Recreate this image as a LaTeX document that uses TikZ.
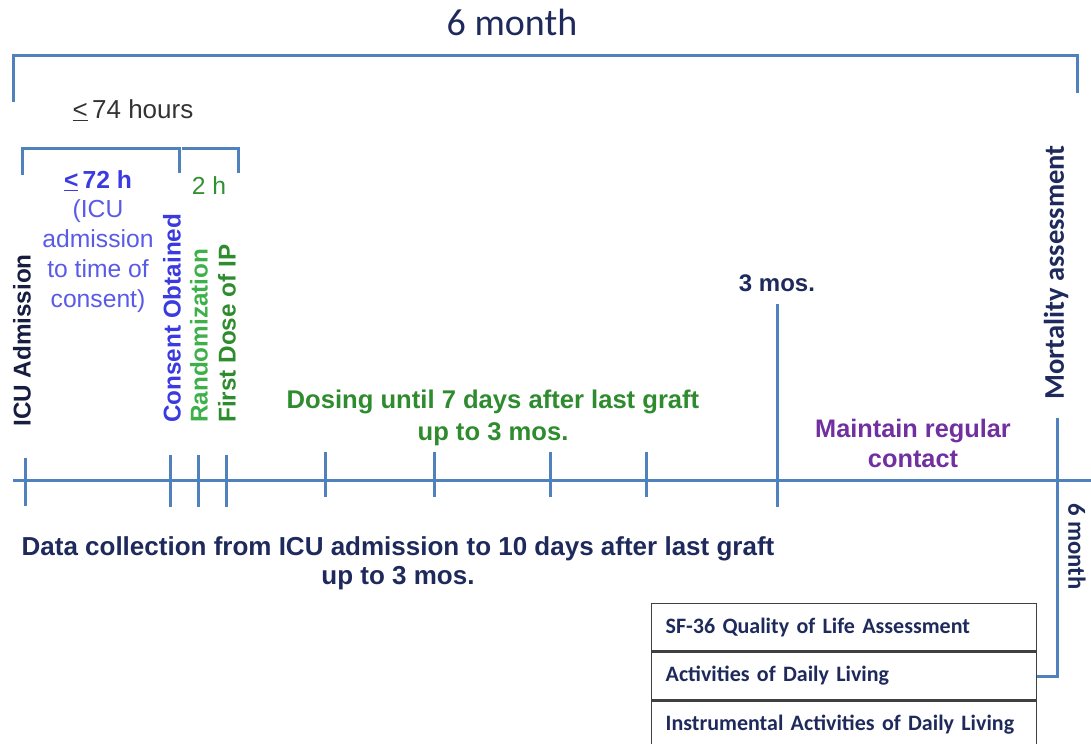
\documentclass[tikz,border=0pt]{standalone}
\usepackage{fontspec}
\setmainfont{Liberation Sans}
\newfontfamily\calibri{Carlito}
\definecolor{lineblue}{HTML}{4F81BD}
\definecolor{navy}{HTML}{1F2A5C}
\definecolor{tblue}{HTML}{3A3AE0}
\definecolor{lblue}{HTML}{5A5AE8}
\definecolor{dgreen}{HTML}{2E8B2E}
\definecolor{lgreen}{HTML}{3DB04A}
\definecolor{purp}{HTML}{7030A0}
\definecolor{gray4}{HTML}{404040}
\definecolor{textgray}{HTML}{333333}
\tikzset{
  bl/.style={draw=lineblue, line width=2.25pt},
  lbl/.style={inner sep=0pt, align=center},
  vert/.style={inner sep=0pt, rotate=90, anchor=west, font=\fontsize{18.2}{21}\selectfont\bfseries},
  rowbox/.style={draw=gray4, line width=1pt, anchor=north west, minimum width=288.75pt, minimum height=35.5pt,
     text width=267.75pt, inner xsep=10.5pt, align=left, text=navy,
     font=\calibri\fontsize{16.5}{19}\selectfont\bfseries},
}
\begin{document}
\begin{tikzpicture}[x=0.75pt,y=-0.75pt]
\useasboundingbox (0,0) rectangle (1091,743);
% title
\node[lbl, text=navy, font=\calibri\fontsize{28.5}{32}\selectfont] (title) at (512,22) {6 month};
% top bracket
\draw[bl] (13,102) -- (13,55) -- (1077,55) -- (1077,93);
% <= 74 hours
\node[lbl, text=textgray, font=\fontsize{19.5}{22}\selectfont] (h74) at (133,110) {\underline{<}\,74 hours};
% lower bracket
\draw[bl] (22,175) -- (22,148) -- (179,148) -- (179,173);
\draw[bl] (182,148) -- (238,148) -- (238,173);
\node[lbl, text=tblue, font=\fontsize{18.5}{21}\selectfont\bfseries] (h72) at (98,181) {\underline{<}\,72 h};
\node[lbl, text=lblue, font=\fontsize{18.5}{22.5}\selectfont] (h72t) at (98,256) {(ICU\\admission\\to time of\\consent)};
\node[lbl, text=dgreen!85!lgreen, font=\fontsize{18.5}{21}\selectfont] (h2) at (209,186) {2 h};
% vertical labels
\node[vert, text=navy!70!black] (icu) at (22,427) {ICU Admission};
\node[vert, text=tblue] (cons) at (172,423) {Consent Obtained};
\node[vert, text=lgreen] (rand) at (199,423) {Randomization};
\node[vert, text=dgreen] (dose) at (227,423) {First Dose of IP};
% timeline
\draw[bl] (13,480) -- (1091,480);
\draw[bl] (25,458) -- (25,506);
\draw[bl] (170,455) -- (170,507);
\draw[bl] (198,455) -- (198,507);
\draw[bl] (226,455) -- (226,507);
\draw[bl] (325,452) -- (325,497);
\draw[bl] (434,452) -- (434,497);
\draw[bl] (550,452) -- (550,497);
\draw[bl] (646,452) -- (646,497);
% 3 mos
\node[lbl, text=navy, font=\fontsize{18}{21}\selectfont\bfseries] (m3) at (777,283) {3 mos.};
\draw[bl] (777,304) -- (777,507);
% dosing
\node[lbl, text=dgreen, font=\fontsize{19.2}{23.5}\selectfont\bfseries] (dosing) at (493,418) {Dosing until 7 days after last graft\\up to 3 mos.};
% maintain
\node[lbl, text=purp, font=\fontsize{19}{22.5}\selectfont\bfseries] (maint) at (913,443) {Maintain regular\\contact};
% data collection
\node[lbl, text=navy, font=\fontsize{19.5}{22}\selectfont\bfseries] (data) at (398,563) {Data collection from ICU admission to 10 days after last graft\\up to 3 mos.};
% mortality
\node[vert, text=navy, font=\calibri\fontsize{21.4}{24}\selectfont\bfseries] (mort) at (1056,400) {Mortality assessment};
\node[inner sep=0pt, rotate=-90, anchor=west, text=navy, font=\calibri\fontsize{18.5}{21}\selectfont\bfseries] (m6) at (1077,503) {6 month};
% table
\node[rowbox] (r1) at (651,603) {SF-36 Quality of Life Assessment};
\node[rowbox] (r2) at (r1.south west) {Activities of Daily Living};
\node[rowbox] (r3) at (r2.south west) {Instrumental Activities of Daily Living};
\coordinate (mtop) at (1057,418);
\draw[bl] (mtop) -- (mtop |- r2.east) -- (r2.east);
\end{tikzpicture}
\end{document}
